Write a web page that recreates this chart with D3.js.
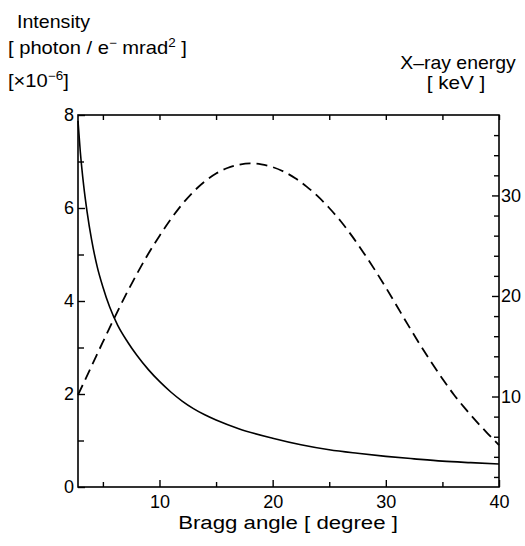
<!DOCTYPE html>
<html>
<head>
<meta charset="utf-8">
<script src="https://cdn.jsdelivr.net/npm/d3@7"></script>
<style>
  html, body { margin: 0; padding: 0; background: #fff; }
  svg { display: block; }
  text { font-family: "Liberation Sans", Arial, Helvetica, sans-serif; fill: #000; }
</style>
</head>
<body>
<svg id="chart" width="525" height="546"></svg>
<script>
// ---- data ----
const angleDomain = [2.8, 40];
const intensityDomain = [0, 8];
const energyDomain = [1, 38];

const angleMajorTicks = [10, 20, 30, 40];
const angleMinorTicks = [5, 15, 25, 35];
const intensityMajorTicks = [0, 2, 4, 6, 8];
const intensityMinorTicks = [1, 3, 5, 7];
const energyMajorTicks = [10, 20, 30];
const energyMinorTicks = [2, 4, 6, 8, 12, 14, 16, 18, 22, 24, 26, 28, 32, 34, 36];

// X-ray energy [keV] (solid line, right axis) vs Bragg angle [deg]
const energyAngle = [2.8, 3.0, 3.3, 3.6, 4.0, 4.5, 5.0, 5.6, 6.3, 7.2, 8, 9, 10, 11, 12, 13, 14, 15, 17, 20, 22.5, 25, 27.5, 30, 32.5, 35, 37.5, 40];
const energyKeV   = [37.4, 34.4, 31.0, 28.4, 25.6, 22.9, 20.9, 18.9, 17.1, 15.4, 14.1, 12.7, 11.5, 10.45, 9.55, 8.8, 8.18, 7.66, 6.8, 5.85, 5.2, 4.7, 4.35, 4.05, 3.8, 3.57, 3.42, 3.29];

// Intensity [x10^-6 photon / e- mrad^2] (dashed line, left axis) vs Bragg angle [deg]
const intensityAngle = [2.8, 4, 5, 6, 7, 8, 9, 10, 11, 12, 13, 14, 15, 16, 17, 18, 19, 20, 21, 22, 23, 24, 25, 26, 27, 28, 29, 30, 31, 32, 33, 34, 35, 36, 37, 38, 39, 40];
const intensityValue = [1.98, 2.6, 3.12, 3.63, 4.12, 4.58, 5.01, 5.4, 5.76, 6.08, 6.35, 6.57, 6.74, 6.86, 6.93, 6.96, 6.94, 6.88, 6.78, 6.64, 6.46, 6.25, 6.0, 5.72, 5.4, 5.05, 4.68, 4.29, 3.88, 3.47, 3.07, 2.69, 2.33, 1.99, 1.69, 1.41, 1.15, 0.9];

// ---- layout ----
const L = 78, R = 499, T = 115, B = 487;
const svg = d3.select("#chart");

const x = d3.scaleLinear().domain(angleDomain).range([L, R]);
const yL = d3.scaleLinear().domain(intensityDomain).range([B, T]);
const yR = d3.scaleLinear().domain(energyDomain).range([B, T]);

const axisStyle = g => {
  g.attr("font-family", null);
  g.selectAll("path").remove();
  g.selectAll("line").attr("stroke", "#000").attr("stroke-width", 1.4);
  g.selectAll("text").attr("font-size", 18).attr("fill", "#000");
};

// bottom
svg.append("g").attr("transform", `translate(0,${B})`)
  .call(d3.axisBottom(x).tickValues(angleMajorTicks).tickSize(-7).tickPadding(8).tickFormat(d3.format("d")))
  .call(axisStyle);
svg.append("g").attr("transform", `translate(0,${B})`)
  .call(d3.axisBottom(x).tickValues(angleMinorTicks).tickSize(-5).tickFormat(""))
  .call(axisStyle);
// top
svg.append("g").attr("transform", `translate(0,${T})`)
  .call(d3.axisTop(x).tickValues(angleMajorTicks.concat(angleMinorTicks)).tickSize(-5).tickFormat(""))
  .call(axisStyle);
// left
svg.append("g").attr("transform", `translate(${L},0)`)
  .call(d3.axisLeft(yL).tickValues(intensityMajorTicks).tickSize(-7).tickPadding(4).tickFormat(d3.format("d")))
  .call(axisStyle);
svg.append("g").attr("transform", `translate(${L},0)`)
  .call(d3.axisLeft(yL).tickValues(intensityMinorTicks).tickSize(-6).tickFormat(""))
  .call(axisStyle);
// right
svg.append("g").attr("transform", `translate(${R},0)`)
  .call(d3.axisRight(yR).tickValues(energyMajorTicks).tickSize(-7).tickPadding(2).tickFormat(d3.format("d")))
  .call(axisStyle);
svg.append("g").attr("transform", `translate(${R},0)`)
  .call(d3.axisRight(yR).tickValues(energyMinorTicks).tickSize(-5).tickFormat(""))
  .call(axisStyle);

// frame
svg.append("rect").attr("x", L).attr("y", T).attr("width", R - L).attr("height", B - T)
  .attr("fill", "none").attr("stroke", "#000").attr("stroke-width", 1.6);

// curves
const energyData = energyAngle.map((a, i) => [a, energyKeV[i]]);
const intensityData = intensityAngle.map((a, i) => [a, intensityValue[i]]);

svg.append("path").datum(energyData)
  .attr("fill", "none").attr("stroke", "#000").attr("stroke-width", 1.6)
  .attr("d", d3.line().x(d => x(d[0])).y(d => yR(d[1])).curve(d3.curveMonotoneX));

svg.append("path").datum(intensityData)
  .attr("fill", "none").attr("stroke", "#000").attr("stroke-width", 1.8)
  .attr("stroke-dasharray", "11,6")
  .attr("d", d3.line().x(d => x(d[0])).y(d => yL(d[1])).curve(d3.curveMonotoneX));

// titles (slightly widened, as in the reference lettering)
function title(px, py, sx, size, anchor) {
  return svg.append("text")
    .attr("transform", `translate(${px},${py}) scale(${sx},1)`)
    .attr("font-size", size).attr("text-anchor", anchor || "start");
}
title(17, 28, 1.09, 18).text("Intensity");

const t2 = title(8, 54, 1.12, 18);
t2.append("tspan").text("[ photon / e");
t2.append("tspan").attr("dy", -7).attr("font-size", 12).text("\u2212");
t2.append("tspan").attr("dy", 7).text(" mrad");
t2.append("tspan").attr("dy", -7).attr("font-size", 12).text("2");
t2.append("tspan").attr("dy", 7).text(" ]");

const t3 = title(8, 87, 1.12, 18);
t3.append("tspan").text("[\u00d710");
t3.append("tspan").attr("dy", -7).attr("font-size", 12).text("\u22126");
t3.append("tspan").attr("dy", 7).text("]");

title(458, 69, 1.08, 18, "middle").text("X\u2013ray energy");
title(456, 89, 1.15, 18, "middle").text("[ keV ]");

title(288, 529, 1.17, 19, "middle").text("Bragg angle [ degree ]");
</script>
</body>
</html>
